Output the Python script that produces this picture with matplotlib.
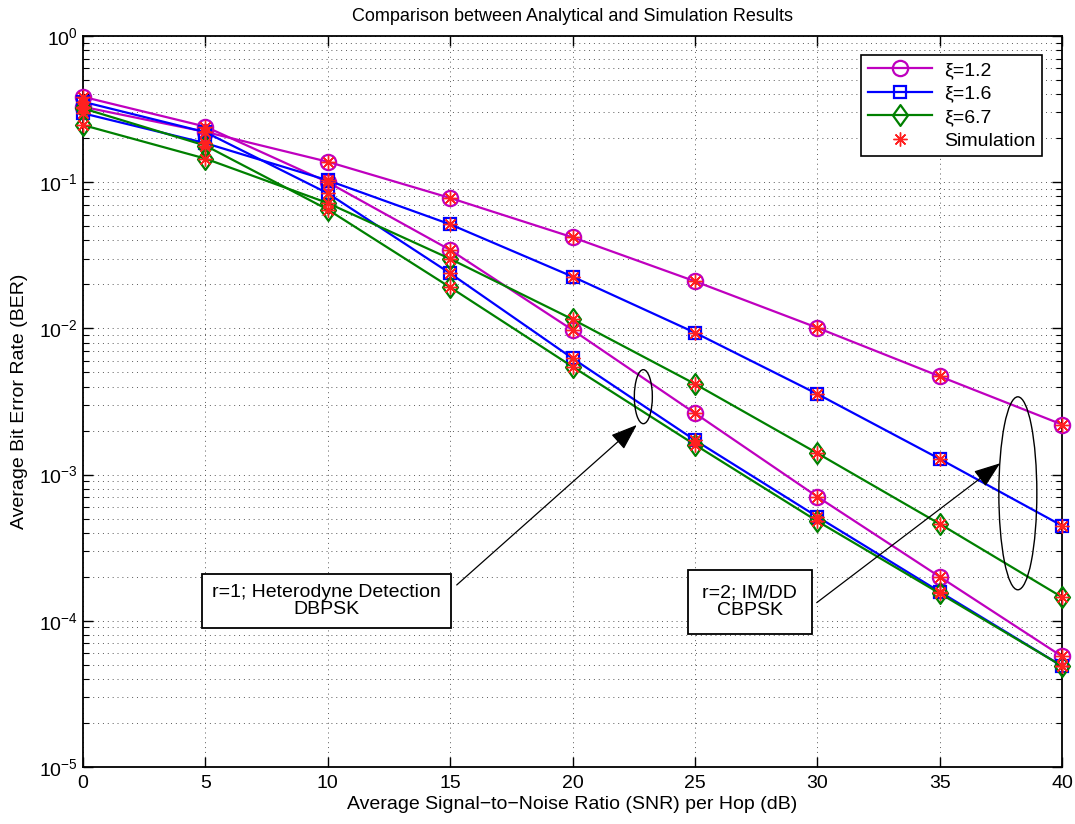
import matplotlib
matplotlib.use("Agg")
import matplotlib.pyplot as plt
from matplotlib.patches import Ellipse
from matplotlib.path import Path

plt.rcParams['font.family'] = ['Liberation Sans', 'DejaVu Sans']
plt.rcParams['mathtext.default'] = 'regular'

# Average SNR per hop (dB)
snr_db = [0, 5, 10, 15, 20, 25, 30, 35, 40]

# r=1, heterodyne detection (DBPSK)
ber_het_xi12 = [0.384, 0.240, 0.100, 0.0344, 0.00975, 0.00263, 7.06e-4, 2.00e-4, 5.7e-5]
ber_het_xi16 = [0.355, 0.220, 0.084, 0.0238, 0.00624, 0.00172, 5.15e-4, 1.58e-4, 4.9e-5]
ber_het_xi67 = [0.320, 0.178, 0.065, 0.0191, 0.00547, 0.00160, 4.8e-4, 1.54e-4, 4.9e-5]

# r=2, IM/DD (CBPSK)
ber_imdd_xi12 = [0.328, 0.221, 0.138, 0.078, 0.042, 0.0210, 0.0101, 0.0047, 0.0022]
ber_imdd_xi16 = [0.296, 0.185, 0.103, 0.0515, 0.0226, 0.00935, 0.00356, 0.00128, 4.47e-4]
ber_imdd_xi67 = [0.246, 0.145, 0.072, 0.0299, 0.01154, 0.00417, 0.00140, 4.6e-4, 1.45e-4]

labels = ['\u03be=1.2', '\u03be=1.6', '\u03be=6.7', 'Simulation']
colors = ['#bf00bf', '#0000ff', '#008000']

# MATLAB-like diamond (slightly taller than wide)
diamond = Path([(0, 1), (0.72, 0), (0, -1), (-0.72, 0), (0, 1)],
               [Path.MOVETO, Path.LINETO, Path.LINETO, Path.LINETO, Path.CLOSEPOLY])
markers = [('o', 11), ('s', 9), (diamond, 15)]

fig = plt.figure(figsize=(10.75, 8.24), dpi=100)
ax = fig.add_axes([0.0772, 0.0692, 0.9108, 0.8871])
ax.set_yscale('log')

groups = [
    (ber_het_xi12, ber_imdd_xi12),
    (ber_het_xi16, ber_imdd_xi16),
    (ber_het_xi67, ber_imdd_xi67),
]

handles = []
for (het, imdd), col, (mk, ms) in zip(groups, colors, markers):
    for k, series in enumerate((het, imdd)):
        h, = ax.plot(snr_db, series, color=col, lw=1.6, marker=mk, ms=ms,
                     mfc='none', mec=col, mew=1.6, zorder=3, clip_on=False)
        if k == 0:
            handles.append(h)

asterisk = (8, 2, 0)
for het, imdd in groups:
    for series in (het, imdd):
        hs, = ax.plot(snr_db, series, ls='none', marker=asterisk, ms=10,
                      mec='#ff2020', mfc='none', mew=1.0, zorder=4, clip_on=False)
handles.append(hs)

ax.set_xlim(0, 40)
ax.set_ylim(1e-5, 1)
ax.set_xticks(snr_db)

ax.grid(True, which='major', axis='both', color='0.35', ls=(0, (1, 4)), lw=0.7)
ax.grid(True, which='minor', axis='y', color='0.35', ls=(0, (1, 4)), lw=0.7)

ax.tick_params(which='both', direction='in', top=True, right=True, labelsize=14)
ax.tick_params(which='major', length=7, width=1)
ax.tick_params(which='minor', length=4, width=0.8)
ax.tick_params(axis='x', pad=6)
for sp in ax.spines.values():
    sp.set_linewidth(1.3)

ax.set_xlabel('Average Signal\u2212to\u2212Noise Ratio (SNR) per Hop (dB)', fontsize=14, labelpad=3)
ax.set_ylabel('Average Bit Error Rate (BER)', fontsize=14, labelpad=8)
ax.set_title('Comparison between Analytical and Simulation Results', fontsize=13, pad=11)

leg = ax.legend(handles, labels, loc='upper right', fontsize=14, handlelength=3.3,
                labelspacing=0.3, borderpad=0.35, handletextpad=0.6, fancybox=False,
                framealpha=1, edgecolor='black', bbox_to_anchor=(0.9895, 0.9875))
leg.get_frame().set_linewidth(1.2)

# grouping ellipses
ax.add_patch(Ellipse((0.5723, 0.5066), 0.0184, 0.0739, transform=ax.transAxes,
                     fill=False, ec='black', lw=1.0, zorder=5))
ax.add_patch(Ellipse((0.9548, 0.3744), 0.0388, 0.264, transform=ax.transAxes,
                     fill=False, ec='black', lw=1.0, zorder=5))

box = dict(boxstyle='square,pad=0.5', fc='white', ec='black', lw=1.3)
arrow = dict(arrowstyle='-|>,head_length=1.1,head_width=0.4', color='black',
             lw=0.9, mutation_scale=15, shrinkA=0, shrinkB=0)

ax.text(0.2487, 0.227, 'r=1; Heterodyne Detection\nDBPSK', transform=ax.transAxes,
        ha='center', va='center', fontsize=14, linespacing=1.05, bbox=box, zorder=6)
ax.text(0.6808, 0.2257, 'r=2; IM/DD\nCBPSK', transform=ax.transAxes,
        ha='center', va='center', fontsize=14, linespacing=1.05,
        bbox=dict(boxstyle='square,pad=0.75', fc='white', ec='black', lw=1.3), zorder=6)

ax.annotate('', xy=(0.5656, 0.4679), xytext=(0.3817, 0.249),
            xycoords='axes fraction', textcoords='axes fraction', arrowprops=arrow, zorder=6)
ax.annotate('', xy=(0.9367, 0.4155), xytext=(0.7494, 0.2248),
            xycoords='axes fraction', textcoords='axes fraction', arrowprops=arrow, zorder=6)

fig.savefig('out.png', dpi=100)
